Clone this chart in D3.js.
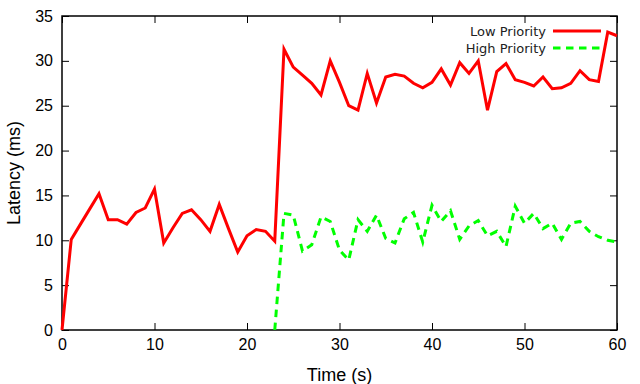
<!DOCTYPE html>
<html>
<head>
<meta charset="utf-8">
<script src="https://cdn.jsdelivr.net/npm/d3@7"></script>
<style>
  body { margin: 0; background: #fff; }
  svg { display: block; }
</style>
</head>
<body>
<svg width="640" height="384"></svg>
<script>
// time in seconds, one sample per second
var lowTimes = d3.range(0, 61);
var lowValues = [0, 10.1, 11.8, 13.5, 15.2, 12.3, 12.3, 11.8, 13.1, 13.6,
    15.7, 9.7, 11.4, 13.0, 13.4, 12.3, 11.0, 14.0, 11.3, 8.7,
    10.5, 11.2, 11.0, 9.9, 31.3, 29.3, 28.4, 27.5, 26.2, 30.0,
    27.6, 25.0, 24.5, 28.6, 25.3, 28.2, 28.5, 28.3, 27.5, 27.0,
    27.6, 29.1, 27.3, 29.8, 28.6, 30.0, 24.5, 28.8, 29.7, 27.9,
    27.6, 27.2, 28.2, 26.9, 27.0, 27.5, 28.9, 27.9, 27.7, 33.2, 32.8];

var highTimes = d3.range(23, 61);
var highValues = [0, 13.0, 12.8, 8.8, 9.5, 12.6, 12.1, 8.9, 7.8, 12.3,
    11.0, 12.8, 10.2, 9.7, 12.4, 13.1, 9.8, 13.9, 12.1, 13.3,
    10.1, 11.6, 12.2, 10.5, 11.0, 9.3, 13.8, 11.9, 13.0, 11.3,
    11.9, 10.1, 11.9, 12.1, 11.0, 10.4, 10.0, 9.8];

var xTicks = [0, 10, 20, 30, 40, 50, 60];
var yTicks = [0, 5, 10, 15, 20, 25, 30, 35];

var seriesNames = ["Low Priority", "High Priority"];
var seriesColors = ["#ff0000", "#00ff00"];

function main() {
    var svg = d3.select("svg"),
        left = 62, right = 617, top = 16, bottom = 330;

    var x = d3.scaleLinear().domain([0, 60]).range([left, right]),
        y = d3.scaleLinear().domain([0, 35]).range([bottom, top]);

    var tick = 7;

    var axes = svg.append("g")
        .attr("font-family", "'Liberation Sans', Arial, sans-serif");

    // bottom + left with labels, top + right mirrored
    axes.append("g").attr("transform", "translate(0," + bottom + ")")
        .call(d3.axisBottom(x).tickValues(xTicks).tickSize(-tick).tickSizeOuter(0).tickPadding(9));
    axes.append("g").attr("transform", "translate(" + left + ",0)")
        .call(d3.axisLeft(y).tickValues(yTicks).tickSize(-tick).tickSizeOuter(0).tickPadding(9));
    axes.append("g").attr("transform", "translate(0," + top + ")")
        .call(d3.axisTop(x).tickValues(xTicks).tickSize(-tick).tickSizeOuter(0).tickFormat(""));
    axes.append("g").attr("transform", "translate(" + right + ",0)")
        .call(d3.axisRight(y).tickValues(yTicks).tickSize(-tick).tickSizeOuter(0).tickFormat(""));

    axes.selectAll("text").attr("font-size", "16px").attr("fill", "#000");
    axes.selectAll("line").attr("stroke", "#000").attr("stroke-width", 1);
    axes.selectAll(".domain").remove();

    svg.append("rect")
        .attr("x", left).attr("y", top)
        .attr("width", right - left).attr("height", bottom - top)
        .attr("fill", "none").attr("stroke", "#000").attr("stroke-width", 1.5);

    // axis titles
    svg.append("text")
        .attr("x", (left + right) / 2).attr("y", 381)
        .attr("text-anchor", "middle")
        .attr("font-family", "'Liberation Sans', Arial, sans-serif")
        .attr("font-size", "18px")
        .text("Time (s)");
    svg.append("text")
        .attr("transform", "translate(20," + ((top + bottom) / 2) + ") rotate(-90)")
        .attr("text-anchor", "middle")
        .attr("font-family", "'Liberation Sans', Arial, sans-serif")
        .attr("font-size", "18px")
        .text("Latency (ms)");

    var line = d3.line()
        .x(function(d){ return x(d[0]); })
        .y(function(d){ return y(d[1]); });

    var lowData = lowTimes.map(function(t, i){ return [t, lowValues[i]]; });
    var highData = highTimes.map(function(t, i){ return [t, highValues[i]]; });

    svg.append("path")
        .datum(lowData)
        .attr("d", line)
        .attr("fill", "none")
        .attr("stroke", seriesColors[0])
        .attr("stroke-width", 3);

    svg.append("path")
        .datum(highData)
        .attr("d", line)
        .attr("fill", "none")
        .attr("stroke", seriesColors[1])
        .attr("stroke-width", 3)
        .attr("stroke-dasharray", "7.5,5.5");

    // legend
    var legend = svg.append("g")
        .attr("font-family", "'DejaVu Sans', sans-serif")
        .attr("font-size", "13px");
    seriesNames.forEach(function(name, i){
        var ly = 31 + i * 17;
        legend.append("text")
            .attr("x", 546).attr("y", ly)
            .attr("dy", "0.35em")
            .attr("text-anchor", "end")
            .attr("fill", "#222")
            .text(name);
        legend.append("line")
            .attr("x1", 553).attr("x2", 601)
            .attr("y1", ly).attr("y2", ly)
            .attr("stroke", seriesColors[i])
            .attr("stroke-width", 3)
            .attr("stroke-dasharray", i === 1 ? "7.5,5.5" : null);
    });
}

main();
</script>
</body>
</html>
